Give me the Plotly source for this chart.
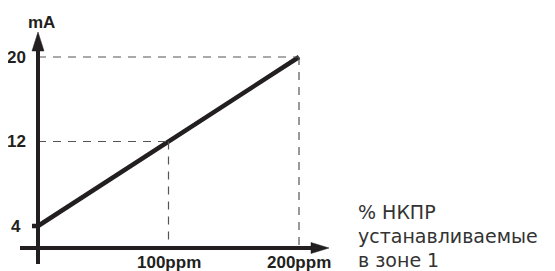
import plotly.graph_objects as go

# ---- data ----
ppm = [0, 200]
mA = [4, 20]
x_ticks = [100, 200]
x_tick_labels = ["100ppm", "200ppm"]
y_ticks = [4, 12, 20]
y_tick_labels = ["4", "12", "20"]
guide_points_x = [100, 200]
guide_points_y = [12, 20]
y_title = "mA"
x_title_lines = ["% НКПР", "устанавливаемые", "в зоне 1"]

# page body has an 8px margin; size the figure to fit the remaining viewport
OFF = 8
W, H = 555 - OFF, 271 - OFF
# reference pixel geometry (layout only), converted to figure pixels
X0_PX, X200_PX = 38 - OFF, 299 - OFF
Y4_PX, Y20_PX = 226 - OFF, 57 - OFF
sx = (X200_PX - X0_PX) / 200.0
sy = (Y4_PX - Y20_PX) / 16.0
x_min = -X0_PX / sx
x_max = x_min + W / sx
y_max = 20 + Y20_PX / sy
y_min = y_max - H / sy

def px2x(px):
    return x_min + (px - OFF) / sx

def py2y(py):
    return y_max - (py - OFF) / sy

def paper(px, py):
    return (px - OFF) / W, 1 - (py - OFF) / H

AXIS_Y_PX = 248
axis_y = py2y(AXIS_Y_PX)
INK = "#231f20"
FONT = "Arial, Liberation Sans, sans-serif"

fig = go.Figure()

shapes = []
# dashed guides
for gx, gy in zip(guide_points_x, guide_points_y):
    shapes.append(dict(type="line", x0=0, x1=gx, y0=gy, y1=gy,
                       line=dict(color="#555", width=1.2, dash="8px,7px")))
    shapes.append(dict(type="line", x0=gx, x1=gx, y0=gy, y1=axis_y,
                       line=dict(color="#555", width=1.2, dash="8px,7px")))

# axes lines
shapes.append(dict(type="line", x0=0, x1=0, y0=py2y(264), y1=py2y(45),
                   line=dict(color=INK, width=4)))
shapes.append(dict(type="line", x0=px2x(20), x1=px2x(315), y0=axis_y, y1=axis_y,
                   line=dict(color=INK, width=4)))

def tri(p1, p2, p3):
    a, b, c = paper(*p1), paper(*p2), paper(*p3)
    return dict(type="path", xref="paper", yref="paper",
                path=f"M{a[0]},{a[1]} L{b[0]},{b[1]} L{c[0]},{c[1]} Z",
                fillcolor=INK, line=dict(color=INK, width=0.5))
shapes.append(tri((38, 32), (32, 51), (44, 51)))
shapes.append(tri((329, AXIS_Y_PX), (311, AXIS_Y_PX - 5.5), (311, AXIS_Y_PX + 5.5)))
# small tick at y=4
shapes.append(dict(type="line", x0=px2x(32), x1=0, y0=4, y1=4,
                   line=dict(color=INK, width=4.5)))

fig.add_trace(go.Scatter(x=ppm, y=mA, mode="lines",
                         line=dict(color=INK, width=4.5), hoverinfo="skip",
                         showlegend=False))

ann = []
for v, t in zip(y_ticks, y_tick_labels):
    ann.append(dict(x=px2x(16), y=v, text=f"<b>{t}</b>", showarrow=False,
                    xanchor="center", yanchor="middle",
                    font=dict(family=FONT, size=17, color=INK)))
for v, t in zip(x_ticks, x_tick_labels):
    ann.append(dict(x=v, y=py2y(262), text=f"<b>{t}</b>", showarrow=False,
                    xanchor="center", yanchor="middle",
                    font=dict(family=FONT, size=17, color=INK)))
ann.append(dict(x=px2x(41), y=py2y(22), text=f"<b>{y_title}</b>", showarrow=False,
                xanchor="center", yanchor="middle",
                font=dict(family=FONT, size=17, color=INK)))
for i, t in enumerate(x_title_lines):
    ann.append(dict(x=px2x(356), y=py2y(212 + 24 * i), text=t, showarrow=False,
                    xanchor="left", yanchor="middle",
                    font=dict(family="DejaVu Sans, sans-serif", size=19, color="#333")))

fig.update_layout(
    width=W, height=H,
    margin=dict(l=0, r=0, t=0, b=0),
    paper_bgcolor="white", plot_bgcolor="white",
    xaxis=dict(range=[x_min, x_max], visible=False, fixedrange=True),
    yaxis=dict(range=[y_min, y_max], visible=False, fixedrange=True),
    shapes=shapes, annotations=ann, showlegend=False,
)
fig.write_html("out.html")
